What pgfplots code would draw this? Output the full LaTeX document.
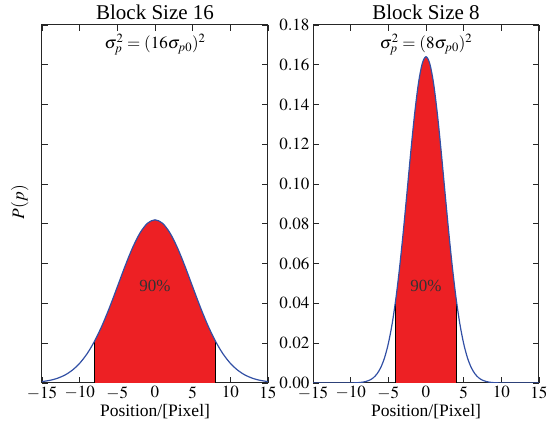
\documentclass[border=0pt]{standalone}
\usepackage{mathptmx}
\usepackage{fontspec}
\setmainfont{Liberation Serif}
\usepackage{pgfplots}
\pgfplotsset{compat=1.18}
\definecolor{fillred}{RGB}{237,32,36}
\definecolor{curveblue}{RGB}{50,80,165}

\pgfplotsset{gauss/.style={
  scale only axis, width=226pt, height=358pt,
  xmin=-15, xmax=15, ymin=0, ymax=0.18,
  xtick={-15,-10,-5,0,5,10,15},
  ytick={0,0.02,0.04,0.06,0.08,0.1,0.12,0.14,0.16,0.18},
  tick align=inside, major tick length=6pt,
  axis line style={line width=1pt, black!85},
  every tick/.style={black!85, line width=0.8pt},
  ticklabel style={font=\fontsize{17}{17}\selectfont},
  y tick label style={/pgf/number format/.cd, fixed, fixed zerofill, precision=2},
  xlabel={\fontsize{17.5}{18}\selectfont Position/[Pixel]},
  xlabel style={yshift=2pt},
  title style={yshift=-4pt},
}}

\begin{document}
\begin{tikzpicture}
\useasboundingbox (-42pt,-50pt) rectangle (505pt,383pt);
% ---- Block Size 16 (sigma = 8/1.645) ----
\begin{axis}[gauss, at={(0pt,0pt)}, title={\fontsize{21}{22}\selectfont Block Size 16},
  yticklabels={}, ylabel={\fontsize{17.5}{18}\selectfont $P(p)$},
  ylabel style={yshift=3pt, xshift=2pt}]
\addplot[fill=fillred, draw=none, smooth] coordinates {
  (-8,0.02121) (-7,0.02912) (-6,0.03833) (-5,0.04836) (-4,0.05849)
  (-3,0.06782) (-2,0.07538) (-1,0.08032) (0,0.08203) (1,0.08032)
  (2,0.07538) (3,0.06782) (4,0.05849) (5,0.04836) (6,0.03833)
  (7,0.02912) (8,0.02121)} \closedcycle;
\addplot[black, line width=0.9pt] coordinates {(-8,0) (-8,0.02121)};
\addplot[black, line width=0.9pt] coordinates {(8,0) (8,0.02121)};
\addplot[curveblue, line width=1.2pt, smooth] coordinates {
  (-15,0.00071) (-14,0.00130) (-13,0.00230) (-12,0.00391) (-11,0.00636)
  (-10,0.00991) (-9,0.01480) (-8,0.02121) (-7,0.02912) (-6,0.03833)
  (-5,0.04836) (-4,0.05849) (-3,0.06782) (-2,0.07538) (-1,0.08032)
  (0,0.08203) (1,0.08032) (2,0.07538) (3,0.06782) (4,0.05849)
  (5,0.04836) (6,0.03833) (7,0.02912) (8,0.02121) (9,0.01480)
  (10,0.00991) (11,0.00636) (12,0.00391) (13,0.00230) (14,0.00130)
  (15,0.00071)};
\node[font=\fontsize{17}{17}\selectfont] at (axis cs:0,0.170) {$\sigma_p^2=(16\sigma_{p0})^2$};
\node[font=\fontsize{17}{17}\selectfont, black!80] at (axis cs:0,0.049) {90\%};
\end{axis}

% ---- Block Size 8 (sigma = 4/1.645) ----
\begin{axis}[gauss, at={(271pt,0pt)}, title={\fontsize{21}{22}\selectfont Block Size 8}]
\addplot[fill=fillred, draw=none, smooth] coordinates {
  (-4,0.04241) (-3.5,0.05823) (-3,0.07665) (-2.5,0.09671) (-2,0.11697)
  (-1.5,0.13563) (-1,0.15075) (-0.5,0.16062) (0,0.16405) (0.5,0.16062)
  (1,0.15075) (1.5,0.13563) (2,0.11697) (2.5,0.09671) (3,0.07665)
  (3.5,0.05823) (4,0.04241)} \closedcycle;
\addplot[black, line width=0.9pt] coordinates {(-4,0) (-4,0.04241)};
\addplot[black, line width=0.9pt] coordinates {(4,0) (4,0.04241)};
\addplot[curveblue, line width=1.2pt, smooth] coordinates {
  (-15,0) (-12,0) (-11,0.000006) (-10,0.000035) (-9.5,0.00008) (-9,0.000174)
  (-8.5,0.000365) (-8,0.00073) (-7.5,0.00141) (-7,0.00260) (-6.5,0.00461)
  (-6,0.00782) (-5.5,0.01271) (-5,0.01982) (-4.5,0.02961) (-4,0.04241)
  (-3.5,0.05823) (-3,0.07665) (-2.5,0.09671) (-2,0.11697) (-1.5,0.13563)
  (-1,0.15075) (-0.5,0.16062) (0,0.16405) (0.5,0.16062) (1,0.15075)
  (1.5,0.13563) (2,0.11697) (2.5,0.09671) (3,0.07665) (3.5,0.05823)
  (4,0.04241) (4.5,0.02961) (5,0.01982) (5.5,0.01271) (6,0.00782)
  (6.5,0.00461) (7,0.00260) (7.5,0.00141) (8,0.00073) (8.5,0.000365)
  (9,0.000174) (9.5,0.00008) (10,0.000035) (11,0.000006) (12,0) (15,0)};
\node[font=\fontsize{17}{17}\selectfont] at (axis cs:0,0.170) {$\sigma_p^2=(8\sigma_{p0})^2$};
\node[font=\fontsize{17}{17}\selectfont, black!80] at (axis cs:0,0.049) {90\%};
\end{axis}
\end{tikzpicture}
\end{document}
